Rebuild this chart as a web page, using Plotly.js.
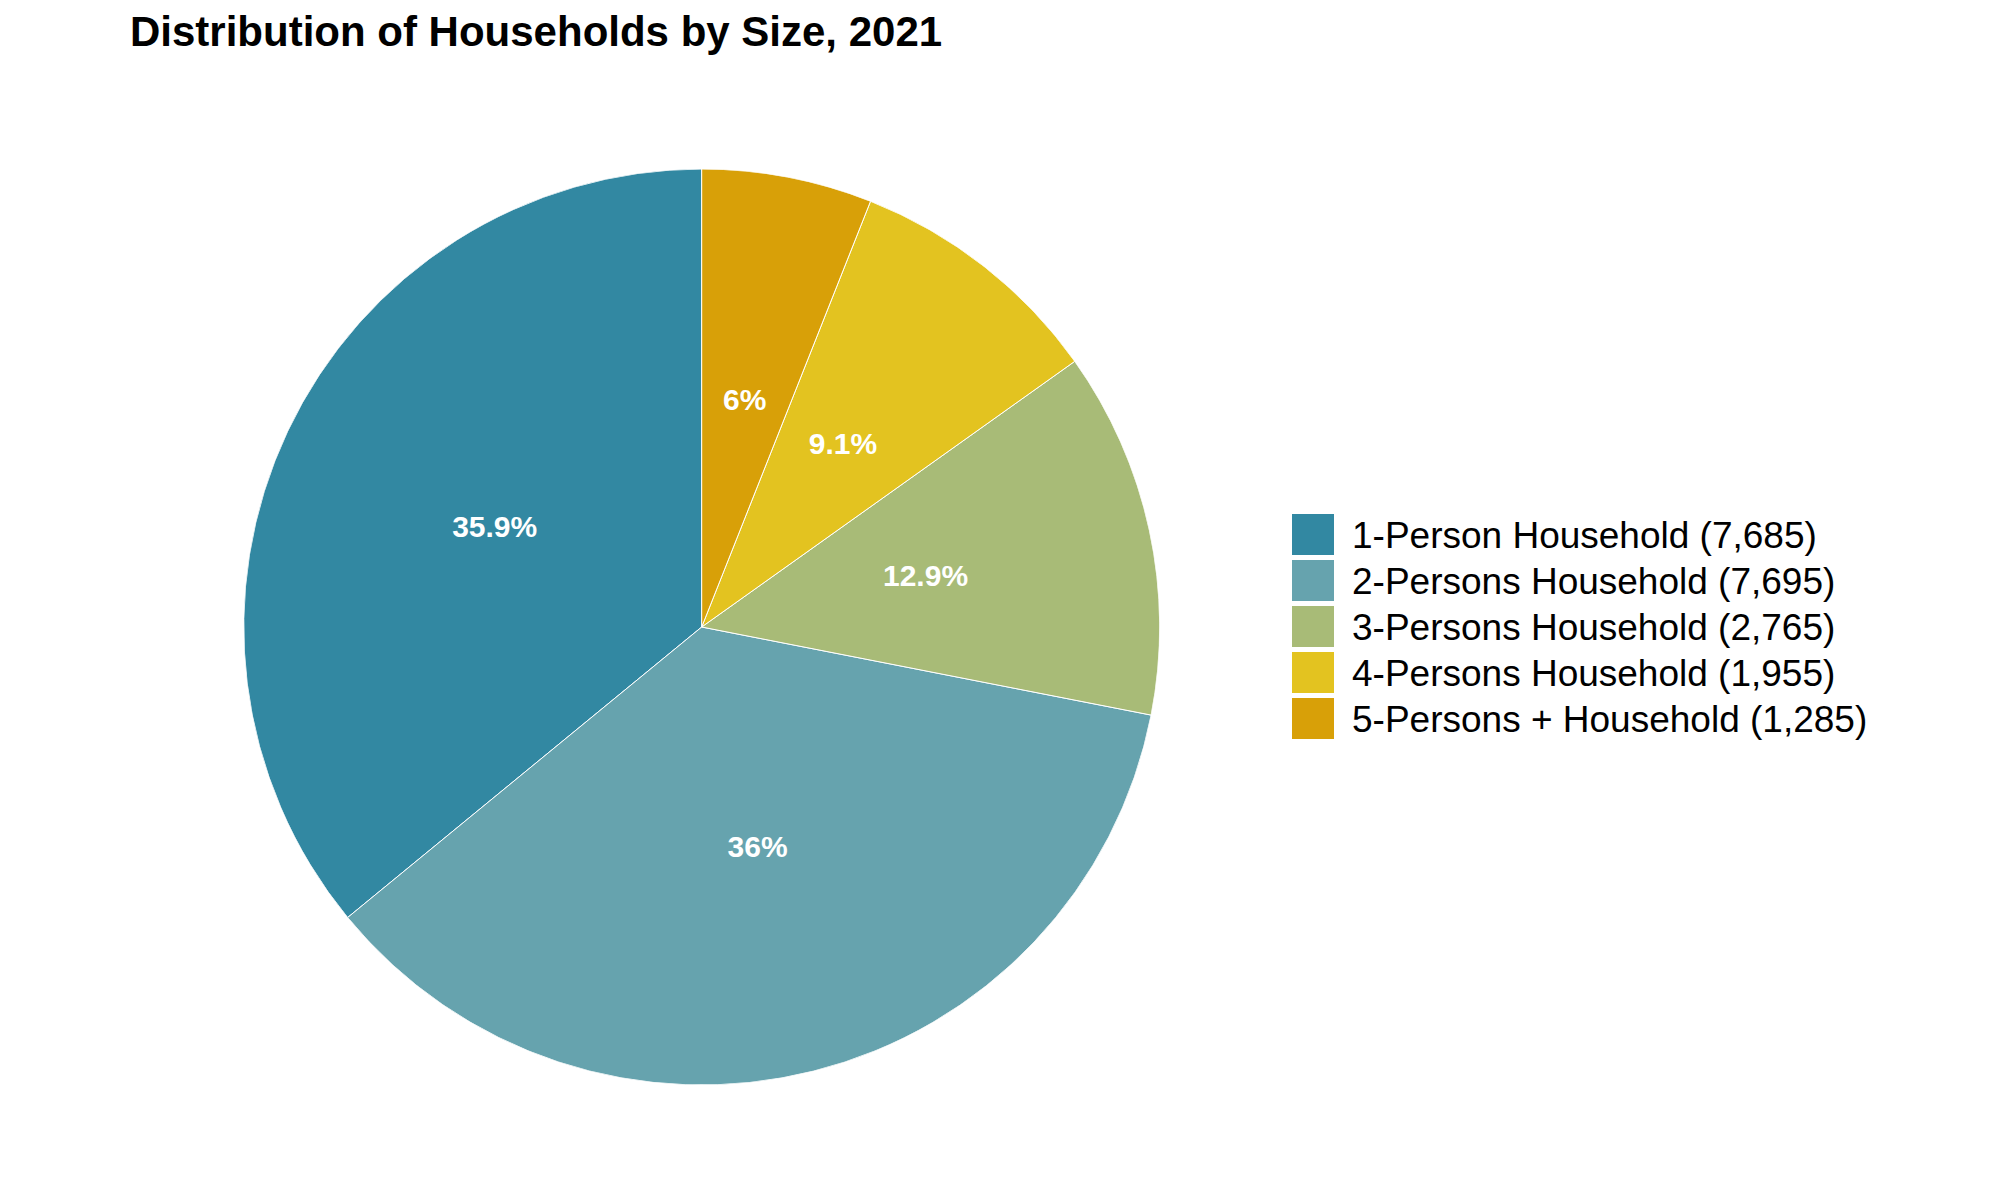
<!DOCTYPE html>
<html>
<head>
<meta charset="utf-8">
<script src="https://cdn.plot.ly/plotly-3.0.1.min.js"></script>
<style>
  html, body { margin: 0; padding: 0; background: #ffffff; }
  #chart { width: 2000px; height: 1200px; }
</style>
</head>
<body>
<div id="chart"></div>
<script>
// ---- Data ----
const categories = [
  "1-Person Household",
  "2-Persons Household",
  "3-Persons Household",
  "4-Persons Household",
  "5-Persons + Household"
];
const households = [7685, 7695, 2765, 1955, 1285];
const sliceColors = ["#3288A2", "#66A3AE", "#A8BB77", "#E3C320", "#D8A008"];
const chartTitle = "Distribution of Households by Size, 2021";

// ---- Derived values ----
const total = households.reduce((a, b) => a + b, 0);
const pctLabels = households.map(v => String(Math.round(v / total * 1000) / 10) + "%");
const sliceWidths = households.map(v => v / total * 360);              // degrees
let cum = 0;
const midAngles = households.map(v => { const m = (cum + v / 2) / total * 360; cum += v; return m; });

// ---- Layout helpers (pixel -> paper, margins are 0) ----
const W = 2000, H = 1200;
const px = v => v / W;
const py = v => 1 - v / H;

const legendLabels = categories.map((c, i) => c + " (" + households[i].toLocaleString("en-US") + ")");
const legendX0 = 1292, legendW = 42, legendTop = 514, legendH = 41, legendPitch = 46, legendTextX = 1350;

const shapes = [];
const annotations = [];
legendLabels.forEach((lab, i) => {
  const top = legendTop + i * legendPitch;
  shapes.push({
    type: "rect", xref: "paper", yref: "paper",
    x0: px(legendX0), x1: px(legendX0 + legendW),
    y0: py(top + legendH), y1: py(top),
    fillcolor: sliceColors[i], line: { width: 0 }
  });
  annotations.push({
    xref: "paper", yref: "paper",
    x: px(legendTextX), y: py(top + legendH / 2 + 1),
    xanchor: "left", yanchor: "middle",
    text: lab, showarrow: false,
    font: { family: "Liberation Sans, Arial, sans-serif", size: 37, color: "#000000" }
  });
});

const cx = 701.7, cy = 627, r = 458;
const domX = [px(cx - r), px(cx + r)];
const domY = [1 - (cy + r) / H, 1 - (cy - r) / H];

// Pie slices as full-radius polar wedges, counterclockwise from 12 o'clock
const sliceTrace = {
  type: "barpolar",
  r: households.map(() => 1),
  theta: midAngles,
  width: sliceWidths,
  base: 0,
  marker: { color: sliceColors, line: { color: "#ffffff", width: 1 } },
  hovertext: categories.map((c, i) => c + ": " + households[i].toLocaleString("en-US") + " (" + pctLabels[i] + ")"),
  hoverinfo: "text",
  showlegend: false,
  subplot: "polar"
};

// Percentage labels at half the radius on each slice's mid-angle
const labelTrace = {
  type: "scatterpolar",
  mode: "text",
  r: households.map(() => 0.5),
  theta: midAngles,
  text: pctLabels,
  textposition: "middle center",
  textfont: { family: "Liberation Sans, Arial, sans-serif", size: 30, color: "#ffffff", weight: "bold" },
  hoverinfo: "skip",
  showlegend: false,
  subplot: "polar"
};

const layout = {
  width: W, height: H,
  margin: { l: 0, r: 0, t: 0, b: 0, pad: 0 },
  paper_bgcolor: "#ffffff",
  plot_bgcolor: "#ffffff",
  showlegend: false,
  polar: {
    domain: { x: domX, y: domY },
    bgcolor: "rgba(0,0,0,0)",
    bargap: 0,
    hole: 0,
    radialaxis: { range: [0, 1], visible: false, showgrid: false, showline: false, showticklabels: false, ticks: "" },
    angularaxis: { rotation: 90, direction: "counterclockwise", visible: false, showgrid: false, showline: false, showticklabels: false, ticks: "" }
  },
  title: {
    text: chartTitle,
    x: px(130), xanchor: "left", xref: "paper",
    y: 1 - 31 / H, yanchor: "middle", yref: "container",
    font: { family: "Liberation Sans, Arial, sans-serif", size: 42, color: "#000000", weight: "bold" }
  },
  shapes: shapes,
  annotations: annotations
};

Plotly.newPlot("chart", [sliceTrace, labelTrace], layout, { displayModeBar: false, responsive: false });
</script>
</body>
</html>
